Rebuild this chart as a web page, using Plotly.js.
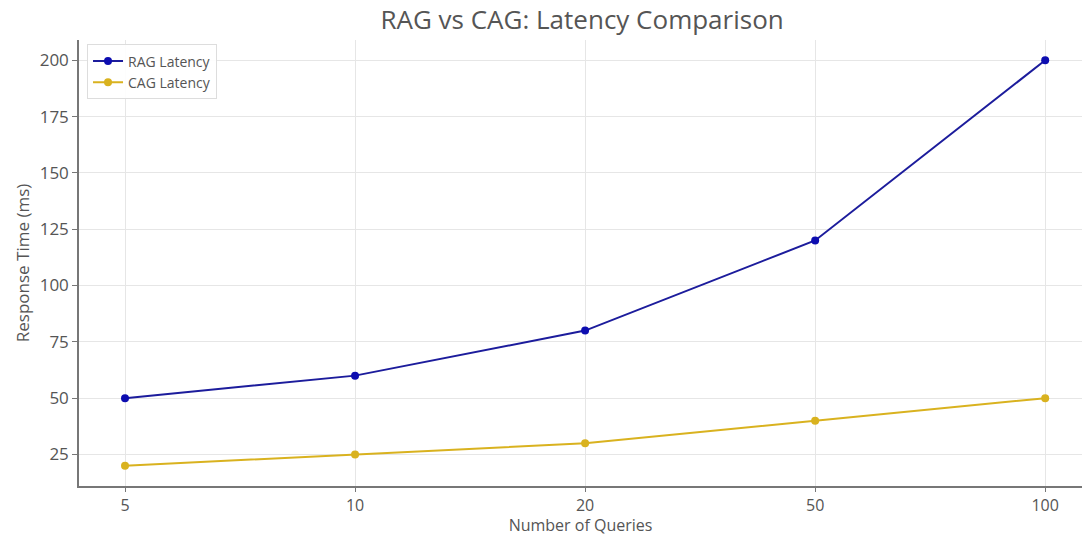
<!DOCTYPE html>
<html><head><meta charset="utf-8">
<script src="https://cdn.plot.ly/plotly-3.0.1.min.js"></script>
<style>html,body{margin:0;padding:0;background:#fff}#chart{width:1082px;height:536px}</style>
</head><body><div id="chart"></div>
<script>
const queries = ["5", "10", "20", "50", "100"];
const ragLatency = [50, 60, 80, 120, 200];
const cagLatency = [20, 25, 30, 40, 50];
const yTicks = [25, 50, 75, 100, 125, 150, 175, 200];

const traces = [
  {x: queries, y: ragLatency, name: "RAG Latency", type: "scatter", mode: "lines+markers",
   line: {color: "#1c1c9c", width: 2}, marker: {color: "#0d0db0", size: 8}},
  {x: queries, y: cagLatency, name: "CAG Latency", type: "scatter", mode: "lines+markers",
   line: {color: "#d9b21f", width: 2}, marker: {color: "#d9b21f", size: 8}}
];
const layout = {
  width: 1082, height: 536,
  margin: {l: 79, r: 0, t: 40, b: 50},
  paper_bgcolor: "#fff", plot_bgcolor: "#fff",
  font: {family: "Open Sans, sans-serif", color: "#555"},
  title: {text: "RAG vs CAG: Latency Comparison", font: {size: 26, color: "#555"}, x: 0.538, xanchor: "center", y: 0.962, yanchor: "middle"},
  xaxis: {type: "category", range: [-0.2, 4.16], showgrid: true, gridcolor: "#e6e6e6",
    showline: true, linecolor: "#777", linewidth: 1.5, ticks: "outside", ticklen: 4, tickcolor: "#777",
    tickfont: {size: 16, color: "#555"}, zeroline: false,
    title: {text: "Number of Queries", font: {size: 16, color: "#555"}, standoff: 6}},
  yaxis: {range: [11, 209], tickvals: yTicks, showgrid: true, gridcolor: "#e6e6e6",
    showline: true, linecolor: "#777", linewidth: 1.5, ticks: "outside", ticklen: 5, tickcolor: "#777",
    tickfont: {size: 17, color: "#555"}, zeroline: false,
    title: {text: "Response Time (ms)", font: {size: 17, color: "#555"}, standoff: 6}},
  legend: {x: 0.008, y: 0.99, xanchor: "left", yanchor: "top", bgcolor: "rgba(255,255,255,0.9)",
    bordercolor: "#dddddd", borderwidth: 1, font: {size: 14, color: "#555"}},
  showlegend: true
};
Plotly.newPlot("chart", traces, layout, {displayModeBar: false});
</script></body></html>
